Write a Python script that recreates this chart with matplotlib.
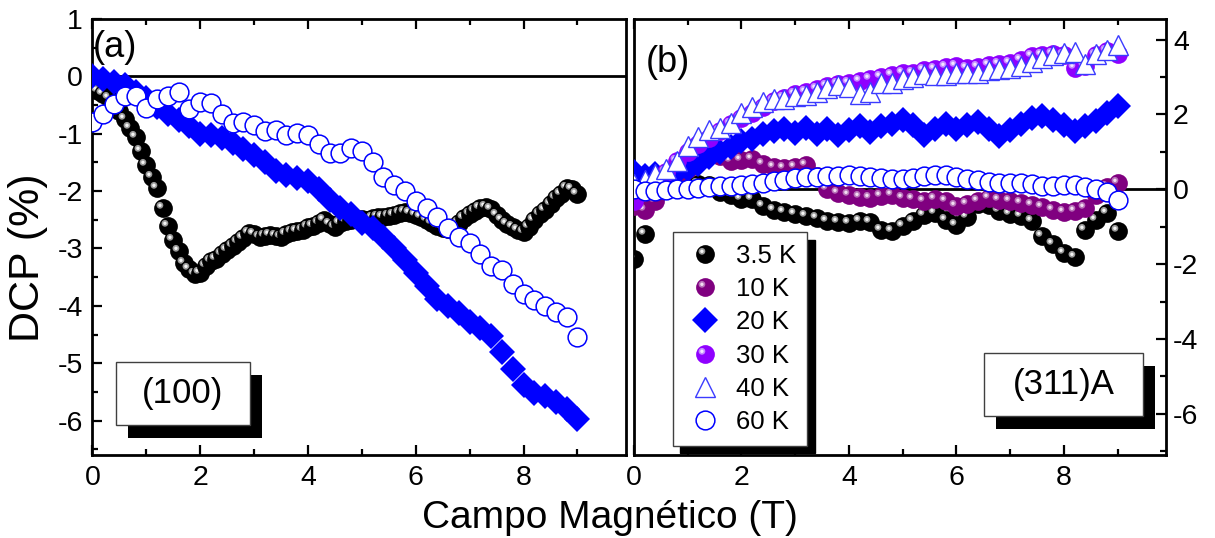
import numpy as np
import matplotlib
matplotlib.use("Agg")
import matplotlib.pyplot as plt
from matplotlib.path import Path
from matplotlib.lines import Line2D
from matplotlib.patches import Rectangle
from matplotlib.legend_handler import HandlerTuple
from matplotlib.ticker import MultipleLocator

plt.rcParams['font.family'] = ['Liberation Sans', 'DejaVu Sans']
plt.rcParams['axes.unicode_minus'] = False

# campo magnetico (T)
field = [0.0, 0.2, 0.4, 0.6, 0.8, 1.0, 1.2, 1.4, 1.6, 1.8,
         2.0, 2.2, 2.4, 2.6, 2.8, 3.0, 3.2, 3.4, 3.6, 3.8,
         4.0, 4.2, 4.4, 4.6, 4.8, 5.0, 5.2, 5.4, 5.6, 5.8,
         6.0, 6.2, 6.4, 6.6, 6.8, 7.0, 7.2, 7.4, 7.6, 7.8,
         8.0, 8.2, 8.4, 8.6, 8.8, 9.0]
field_fine = [0.0, 0.1, 0.2, 0.3, 0.4, 0.5, 0.6, 0.7, 0.8, 0.9,
              1.0, 1.1, 1.2, 1.3, 1.4, 1.5, 1.6, 1.7, 1.8, 1.9,
              2.0, 2.1, 2.2, 2.3, 2.4, 2.5, 2.6, 2.7, 2.8, 2.9,
              3.0, 3.1, 3.2, 3.3, 3.4, 3.5, 3.6, 3.7, 3.8, 3.9,
              4.0, 4.1, 4.2, 4.3, 4.4, 4.5, 4.6, 4.7, 4.8, 4.9,
              5.0, 5.1, 5.2, 5.3, 5.4, 5.5, 5.6, 5.7, 5.8, 5.9,
              6.0, 6.1, 6.2, 6.3, 6.4, 6.5, 6.6, 6.7, 6.8, 6.9,
              7.0, 7.1, 7.2, 7.3, 7.4, 7.5, 7.6, 7.7, 7.8, 7.9,
              8.0, 8.1, 8.2, 8.3, 8.4, 8.5, 8.6, 8.7, 8.8, 8.9, 9.0]

# (a) amostra (100)
a_35K = [-0.2, -0.25, -0.3, -0.38, -0.48, -0.6, -0.74, -0.9, -1.05, -1.3,
         -1.55, -1.75, -1.95, -2.3, -2.6, -2.85, -3.05, -3.25, -3.35, -3.45,
         -3.42, -3.3, -3.22, -3.18, -3.1, -3.02, -2.96, -2.88, -2.82, -2.73,
         -2.74, -2.8, -2.79, -2.77, -2.78, -2.8, -2.74, -2.71, -2.69, -2.68,
         -2.63, -2.6, -2.55, -2.51, -2.58, -2.62, -2.55, -2.52, -2.5, -2.49,
         -2.48, -2.5, -2.47, -2.45, -2.45, -2.43, -2.42, -2.38, -2.36, -2.38,
         -2.42, -2.46, -2.5, -2.55, -2.6, -2.64, -2.66, -2.62, -2.55, -2.47,
         -2.4, -2.34, -2.3, -2.28, -2.32, -2.42, -2.5, -2.57, -2.62, -2.68,
         -2.72, -2.62, -2.5, -2.4, -2.33, -2.22, -2.12, -2.05, -1.95, -1.97, -2.05]
a_20K = [0.0, -0.05, -0.1, -0.15, -0.27, -0.38, -0.53, -0.66, -0.76, -0.87,
         -1.0, -1.03, -1.07, -1.16, -1.26, -1.37, -1.5, -1.65, -1.72, -1.77,
         -1.82, -1.97, -2.15, -2.3, -2.4, -2.55, -2.65, -2.8, -3.0, -3.2,
         -3.42, -3.65, -3.88, -4.0, -4.13, -4.28, -4.38, -4.52, -4.8, -5.1,
         -5.38, -5.52, -5.57, -5.67, -5.8, -5.97]
a_60K = [-0.8, -0.65, -0.48, -0.35, -0.35, -0.56, -0.4, -0.34, -0.28, -0.57,
         -0.44, -0.46, -0.66, -0.82, -0.79, -0.84, -0.95, -0.94, -1.02, -0.98,
         -1.03, -1.18, -1.33, -1.33, -1.25, -1.3, -1.5, -1.75, -1.9, -2.0,
         -2.17, -2.3, -2.45, -2.64, -2.8, -2.9, -3.1, -3.3, -3.38, -3.62,
         -3.8, -3.9, -4.0, -4.1, -4.2, -4.55]

# (b) amostra (311)A
b_35K = [-1.85, -1.2, -0.2, 0.14, 0.2, 0.19, 0.15, 0.12, -0.06, -0.14,
         -0.25, -0.25, -0.45, -0.56, -0.61, -0.66, -0.71, -0.77, -0.84, -0.88,
         -0.91, -0.86, -0.88, -1.1, -1.12, -0.98, -0.85, -0.7, -0.64, -0.82,
         -0.95, -0.75, -0.4, -0.42, -0.57, -0.65, -0.72, -0.85, -1.25, -1.45,
         -1.7, -1.8, -1.1, -0.82, -0.64, -1.12]
b_10K = [-0.45, -0.55, -0.3, 0.0, 0.3, 0.55, 0.75, 0.92, 0.88, 0.76,
         0.78, 0.82, 0.68, 0.6, 0.56, 0.6, 0.64, 0.35, 0.0, -0.1,
         -0.15, -0.2, -0.22, -0.18, -0.16, -0.22, -0.26, -0.3, -0.26, -0.32,
         -0.44, -0.4, -0.3, -0.24, -0.28, -0.32, -0.36, -0.42, -0.48, -0.55,
         -0.6, -0.58, -0.5, -0.15, 0.05, 0.18]
b_20K = [0.45, 0.35, 0.4, 0.38, 0.45, 0.55, 0.68, 0.85, 1.0, 1.12,
         1.28, 1.35, 1.48, 1.55, 1.62, 1.5, 1.65, 1.48, 1.62, 1.45,
         1.58, 1.7, 1.52, 1.68, 1.75, 1.85, 1.72, 1.45, 1.6, 1.75,
         1.62, 1.72, 1.8, 1.6, 1.42, 1.58, 1.75, 1.9, 1.95, 1.85,
         1.72, 1.55, 1.7, 1.82, 2.05, 2.22]
b_30K = [-0.3, -0.05, 0.2, 0.45, 0.75, 1.0, 1.2, 1.38, 1.55, 1.75,
         1.9, 2.05, 2.2, 2.35, 2.45, 2.55, 2.6, 2.68, 2.75, 2.82,
         2.85, 2.88, 2.95, 3.0, 3.05, 3.1, 3.12, 3.18, 3.22, 3.28,
         3.3, 3.25, 3.28, 3.32, 3.35, 3.38, 3.45, 3.55, 3.6, 3.62,
         3.6, 3.25, 3.3, 3.6, 3.7, 3.62]
b_40K = [0.15, 0.25, 0.4, 0.55, 0.75, 1.15, 1.4, 1.58, 1.65, 1.78,
         2.05, 2.2, 2.32, 2.42, 2.4, 2.48, 2.53, 2.6, 2.7, 2.78,
         2.72, 2.55, 2.6, 2.85, 2.85, 2.95, 3.0, 3.08, 3.05, 3.06,
         3.12, 3.1, 3.12, 3.2, 3.22, 3.24, 3.3, 3.4, 3.5, 3.6,
         3.65, 3.68, 3.35, 3.62, 3.72, 3.85]
b_60K = [0.0, -0.05, -0.05, -0.02, 0.0, 0.02, 0.04, 0.06, 0.08, 0.1,
         0.12, 0.14, 0.18, 0.22, 0.26, 0.3, 0.32, 0.34, 0.35, 0.36,
         0.38, 0.36, 0.33, 0.3, 0.27, 0.28, 0.31, 0.35, 0.38, 0.39,
         0.33, 0.27, 0.24, 0.2, 0.18, 0.18, 0.18, 0.15, 0.1, 0.09,
         0.11, 0.12, 0.06, 0.0, -0.08, -0.28]

labels = ["3.5 K", "10 K", "20 K", "30 K", "40 K", "60 K"]

BLACK = ("k", "#9a9a9a", "#f4f4f4")
PURPLE = ("#800080", "#b872b8", "#f2dff2")
VIOLET = ("#8f00ff", "#c48cff", "#f3e6ff")
BLUE = "#0000ff"
MS = 13.5      # esferas e circulos
MS_D = 13      # losangos
MS_T = 14      # triangulos


def spot(r, cx=-0.38, cy=0.34):
    # brilho da esfera: circulo deslocado, ancorado no quadrado [-1, 1]
    circ = Path.circle((cx, cy), r)
    frame = Path([(-1, -1), (1, 1)], [Path.MOVETO, Path.MOVETO])
    return Path.make_compound_path(circ, frame)


SPOT_OUT = spot(0.36)
SPOT_IN = spot(0.18)


def ball_lines(colors, ms=MS):
    c, h1, h2 = colors
    return (Line2D([], [], ls="none", marker="o", ms=ms, mfc=c, mec=c, mew=0),
            Line2D([], [], ls="none", marker=SPOT_OUT, ms=ms, mfc=h1, mew=0),
            Line2D([], [], ls="none", marker=SPOT_IN, ms=ms, mfc=h2, mew=0))


def balls(ax, x, y, colors, z):
    c, h1, h2 = colors
    for i, (xi, yi) in enumerate(zip(x, y)):
        zz = z + i * 1e-3
        ax.plot([xi], [yi], ls="none", marker="o", ms=MS, mfc=c, mec=c, mew=0, zorder=zz)
        ax.plot([xi], [yi], ls="none", marker=SPOT_OUT, ms=MS, mfc=h1, mew=0, zorder=zz)
        ax.plot([xi], [yi], ls="none", marker=SPOT_IN, ms=MS, mfc=h2, mew=0, zorder=zz)


def diamonds(ax, x, y, z):
    ax.plot(x, y, ls="none", marker="D", ms=MS_D, mfc=BLUE, mec=BLUE, mew=0, zorder=z)


def triangles(ax, x, y, z):
    ax.plot(x, y, ls="none", marker="^", ms=MS_T, mfc="w", mec="#3b3bff", mew=1.0, zorder=z)


def circles(ax, x, y, z):
    ax.plot(x, y, ls="none", marker="o", ms=MS, mfc="w", mec=BLUE, mew=1.1, zorder=z)


def label_box(ax, text, x0, y0, x1, y1, dx, dy, fs):
    ax.add_patch(Rectangle((x0 + dx, y0 - dy), x1 - x0, y1 - y0, transform=ax.transAxes,
                           fc="k", ec="k", lw=0, zorder=20))
    ax.add_patch(Rectangle((x0, y0), x1 - x0, y1 - y0, transform=ax.transAxes,
                           fc="w", ec="#404040", lw=1, zorder=21))
    ax.text((x0 + x1) / 2, (y0 + y1) / 2, text, transform=ax.transAxes,
            ha="center", va="center", fontsize=fs, zorder=22)


def style_axes(ax):
    for s in ax.spines.values():
        s.set_linewidth(2)
    ax.xaxis.set_major_locator(MultipleLocator(2))
    ax.xaxis.set_minor_locator(MultipleLocator(1))
    ax.tick_params(which="both", direction="in", top=True, bottom=True, width=1.6)
    ax.tick_params(which="major", length=7, labelsize=20.5)
    ax.tick_params(which="minor", length=4)
    ax.tick_params(axis="x", pad=7)
    ax.set_xlim(0, 9.9)
    ax.axhline(0, color="k", lw=2, zorder=1)


fig = plt.figure(figsize=(12.15, 5.38), dpi=100)
ax1 = fig.add_axes([0.0761, 0.1543, 0.4391, 0.8104])
ax2 = fig.add_axes([0.5218, 0.1543, 0.4379, 0.8104])

# --- (a) (100)
style_axes(ax1)
ax1.set_ylim(-6.6, 1.0)
ax1.yaxis.set_major_locator(MultipleLocator(1))
ax1.yaxis.set_minor_locator(MultipleLocator(0.5))
ax1.tick_params(axis="y", which="both", left=True, right=False, pad=7)
balls(ax1, field_fine, a_35K, BLACK, 3)
diamonds(ax1, field, a_20K, 4)
circles(ax1, field, a_60K, 5)
ax1.text(0.0, 0.975, "(a)", transform=ax1.transAxes, ha="left", va="top", fontsize=26)
label_box(ax1, "(100)", 0.044, 0.0688, 0.295, 0.2126, 0.0234, 0.0291, 25)

# --- (b) (311)A
style_axes(ax2)
ax2.set_ylim(-7.1, 4.55)
ax2.yaxis.set_major_locator(MultipleLocator(2))
ax2.yaxis.set_minor_locator(MultipleLocator(1))
ax2.tick_params(axis="y", which="both", left=False, right=True,
                labelleft=False, labelright=True, pad=5)
balls(ax2, field, b_35K, BLACK, 3)
balls(ax2, field, b_10K, PURPLE, 4)
diamonds(ax2, field, b_20K, 5)
balls(ax2, field, b_30K, VIOLET, 6)
triangles(ax2, field, b_40K, 7)
circles(ax2, field, b_60K, 8)
ax2.text(0.0216, 0.94, "(b)", transform=ax2.transAxes, ha="left", va="top", fontsize=26)
label_box(ax2, "(311)A", 0.6575, 0.0894, 0.9568, 0.2333, 0.0233, 0.0291, 25)

handles = [
    ball_lines(BLACK),
    ball_lines(PURPLE),
    Line2D([], [], ls="none", marker="D", ms=MS_D, mfc=BLUE, mec=BLUE, mew=0),
    ball_lines(VIOLET),
    Line2D([], [], ls="none", marker="^", ms=MS_T, mfc="w", mec="#3b3bff", mew=1.0),
    Line2D([], [], ls="none", marker="o", ms=MS, mfc="w", mec=BLUE, mew=1.1),
]
leg = ax2.legend(handles, labels, handler_map={tuple: HandlerTuple(ndivide=1, pad=0)},
                 loc="upper left", bbox_to_anchor=(0.0726, 0.511), borderaxespad=0,
                 fontsize=18.5, fancybox=False, edgecolor="#404040", framealpha=1,
                 shadow={"ox": 5.5, "oy": -5.5, "facecolor": "k", "edgecolor": "k", "alpha": 1},
                 borderpad=0.45, labelspacing=0.36, handlelength=1.6, handletextpad=0.4,
                 numpoints=1)
leg.get_frame().set_linewidth(1)
leg.set_zorder(30)

fig.text(0.023, 0.5214, "DCP (%)", rotation=90, ha="center", va="center", fontsize=31)
fig.text(0.5016, 0.0186, "Campo Magnético (T)", ha="center", va="baseline", fontsize=28)

fig.savefig("out.png", dpi=100)
